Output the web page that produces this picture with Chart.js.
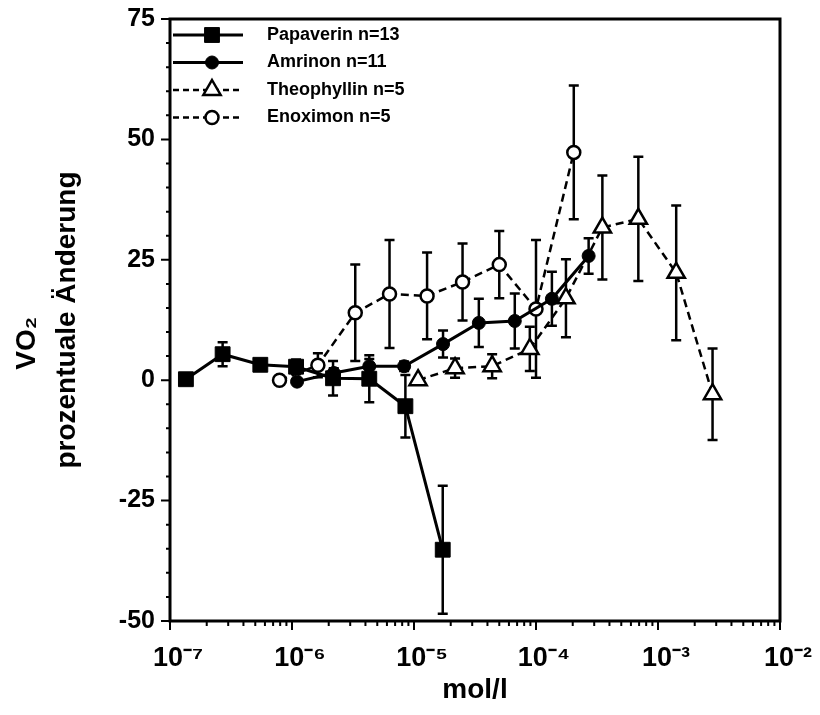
<!DOCTYPE html>
<html>
<head>
<meta charset="utf-8">
<script src="https://cdn.jsdelivr.net/npm/chart.js@4.4.1/dist/chart.umd.min.js"></script>
<style>
  html, body { margin: 0; padding: 0; background: #fff; }
</style>
</head>
<body>
<canvas id="vo2Chart" width="820" height="715"></canvas>
<script>
const seriesNames = ["Papaverin n=13", "Amrinon n=11", "Theophyllin n=5", "Enoximon n=5"];

// concentration (mol/l), change in %, error (+/-)
const papaverinConc = [1.35e-7, 2.7e-7, 5.5e-7, 1.08e-6, 2.17e-6, 4.3e-6, 8.5e-6, 1.72e-5];
const papaverinVals = [0.2, 5.4, 3.2, 2.8, 0.4, 0.3, -5.4, -35.2];
const papaverinErr  = [0, 2.5, 0, 1.5, 3.6, 4.9, 6.5, 13.3];

const amrinonConc = [1.1e-6, 2.2e-6, 4.3e-6, 8.3e-6, 1.73e-5, 3.4e-5, 6.7e-5, 1.35e-4, 2.7e-4];
const amrinonVals = [-0.3, 1.5, 2.9, 2.9, 7.5, 11.9, 12.3, 16.9, 25.8];
const amrinonErr  = [0, 1, 1.5, 1, 2.8, 5, 5.7, 5.6, 3.7];

const theoConc = [1.08e-5, 2.17e-5, 4.37e-5, 8.9e-5, 1.76e-4, 3.5e-4, 6.9e-4, 1.41e-3, 2.8e-3];
const theoVals = [0, 2.5, 2.9, 6.5, 17, 31.7, 33.5, 22.3, -2.9];
const theoErr  = [0, 2, 2.5, 4.6, 8.1, 10.8, 12.9, 14, 9.5];

const enoxConc = [7.9e-7, 1.63e-6, 3.3e-6, 6.3e-6, 1.28e-5, 2.5e-5, 5.0e-5, 1.0e-4, 2.04e-4];
const enoxVals = [0, 3.1, 14, 17.9, 17.5, 20.4, 24, 14.8, 47.3];
const enoxErr  = [0, 2.5, 10, 11.2, 9, 8, 7, 14.3, 13.9];

const xDecades = [-7, -6, -5, -4, -3, -2];
const xTickLabels = ["10\u207B\u2077", "10\u207B\u2076", "10\u207B\u2075", "10\u207B\u2074", "10\u207B\u00B3", "10\u207B\u00B2"];
const yTicks = [-50, -25, 0, 25, 50, 75];

const FONT = "'Liberation Sans', Arial, Helvetica, sans-serif";

function pts(xs, ys) {
  return xs.map((x, i) => ({ x: x, y: ys[i] }));
}

function drawMarker(ctx, style, x, y, r, fill, bw) {
  ctx.beginPath();
  if (style === 'rect') {
    const s = r * Math.SQRT1_2;
    ctx.rect(x - s, y - s, 2 * s, 2 * s);
  } else if (style === 'triangle') {
    ctx.moveTo(x, y - r);
    ctx.lineTo(x + 0.866 * r, y + 0.5 * r);
    ctx.lineTo(x - 0.866 * r, y + 0.5 * r);
  } else {
    ctx.arc(x, y, r, 0, Math.PI * 2);
  }
  ctx.closePath();
  ctx.fillStyle = fill;
  ctx.fill();
  ctx.setLineDash([]);
  ctx.lineWidth = bw;
  ctx.strokeStyle = '#000';
  ctx.stroke();
}

// error bars under the markers
const errorBars = {
  id: 'errorBars',
  beforeDatasetsDraw(chart) {
    const ctx = chart.ctx, xs = chart.scales.x, ys = chart.scales.y;
    ctx.save();
    ctx.strokeStyle = '#000';
    ctx.lineWidth = 2.5;
    chart.data.datasets.forEach(ds => {
      ds.data.forEach((p, i) => {
        const e = ds.errors[i];
        if (!e) return;
        const px = xs.getPixelForValue(p.x);
        const top = ys.getPixelForValue(p.y + e);
        const bot = ys.getPixelForValue(p.y - e);
        ctx.beginPath();
        ctx.moveTo(px, top); ctx.lineTo(px, bot);
        ctx.moveTo(px - 5, top); ctx.lineTo(px + 5, top);
        ctx.moveTo(px - 5, bot); ctx.lineTo(px + 5, bot);
        ctx.stroke();
      });
    });
    ctx.restore();
  }
};

// frame, tick marks and the legend box
const frameAndLegend = {
  id: 'frameAndLegend',
  afterDraw(chart) {
    const ctx = chart.ctx, a = chart.chartArea;
    const xs = chart.scales.x, ys = chart.scales.y;
    ctx.save();
    ctx.strokeStyle = '#000';
    ctx.lineWidth = 3;
    ctx.strokeRect(a.left, a.top, a.right - a.left, a.bottom - a.top);

    ctx.lineWidth = 2;
    ctx.beginPath();
    for (let v = -50; v <= 75; v += 5) {
      const py = ys.getPixelForValue(v);
      const len = (v % 25 === 0) ? 9 : 4;
      ctx.moveTo(a.left - len, py); ctx.lineTo(a.left, py);
    }
    for (let d = -7; d <= -3; d++) {
      for (let m = 1; m <= 9; m++) {
        const px = xs.getPixelForValue(m * Math.pow(10, d));
        const len = m === 1 ? 9 : 5;
        ctx.moveTo(px, a.bottom); ctx.lineTo(px, a.bottom + len);
      }
    }
    const pxEnd = xs.getPixelForValue(1e-2);
    ctx.moveTo(pxEnd, a.bottom); ctx.lineTo(pxEnd, a.bottom + 9);
    ctx.stroke();

    // legend
    ctx.font = "bold 18px " + FONT;
    ctx.textBaseline = 'middle';
    ctx.textAlign = 'left';
    chart.data.datasets.forEach((ds, i) => {
      const y = 35 + i * 27.5;
      ctx.beginPath();
      ctx.lineWidth = ds.borderWidth;
      ctx.setLineDash(ds.borderDash.length ? [6, 4] : []);
      ctx.moveTo(173, y); ctx.lineTo(243, y);
      ctx.stroke();
      drawMarker(ctx, ds.pointStyle, 212, y, ds.pointRadius, ds.pointBackgroundColor, ds.pointBorderWidth);
      ctx.fillStyle = '#000';
      ctx.fillText(ds.label, 267, y);
    });
    ctx.restore();
  }
};

function series(label, xs, ys, errs, style, radius, fill, dashed) {
  return {
    label: label,
    data: pts(xs, ys),
    errors: errs,
    showLine: true,
    tension: 0,
    borderColor: '#000',
    borderWidth: dashed ? 2.5 : 3,
    borderDash: dashed ? [8, 5] : [],
    pointStyle: style,
    pointRadius: radius,
    pointHoverRadius: radius,
    pointBackgroundColor: fill,
    pointBorderColor: '#000',
    pointBorderWidth: style === 'rect' ? 1 : (fill === '#fff' ? 2.5 : 1)
  };
}

const ctx = document.getElementById('vo2Chart');
const vo2Chart = new Chart(ctx, {
  type: 'scatter',
  data: {
    datasets: [
      series(seriesNames[0], papaverinConc, papaverinVals, papaverinErr, 'rect', 10.5, '#000', false),
      series(seriesNames[1], amrinonConc, amrinonVals, amrinonErr, 'circle', 6.5, '#000', false),
      series(seriesNames[2], theoConc, theoVals, theoErr, 'triangle', 10, '#fff', true),
      series(seriesNames[3], enoxConc, enoxVals, enoxErr, 'circle', 6.5, '#fff', true)
    ]
  },
  options: {
    responsive: false,
    animation: false,
    devicePixelRatio: 1,
    layout: { padding: { top: 19, right: 40, left: 0, bottom: 0 } },
    plugins: {
      legend: { display: false },
      tooltip: { enabled: false }
    },
    scales: {
      x: {
        type: 'logarithmic',
        position: 'bottom',
        min: 1e-7,
        max: 1e-2,
        grid: { display: false, drawTicks: false },
        border: { display: false },
        afterBuildTicks: s => { s.ticks = xDecades.map(e => ({ value: Math.pow(10, e) })); },
        afterFit: s => { s.height = 94; s.paddingLeft = 0; s.paddingRight = 0; },
        ticks: {
          autoSkip: false,
          maxRotation: 0,
          padding: 21,
          labelOffset: 8,
          color: '#000',
          font: { family: FONT, size: 27, weight: 'bold' },
          callback: (v, i) => xTickLabels[i]
        },
        title: {
          display: true,
          text: 'mol/l',
          color: '#000',
          font: { family: FONT, size: 28, weight: 'bold' },
          padding: { top: 0, bottom: 8 }
        }
      },
      y: {
        type: 'linear',
        min: -50,
        max: 75,
        grid: { display: false, drawTicks: false },
        border: { display: false },
        afterBuildTicks: s => { s.ticks = yTicks.map(v => ({ value: v })); },
        afterFit: s => { s.width = 170; s.paddingTop = 0; s.paddingBottom = 0; },
        ticks: {
          padding: 15,
          color: '#000',
          font: { family: FONT, size: 25, weight: 'bold' }
        },
        title: {
          display: true,
          text: ['VO\u2082\u00A0\u00A0\u00A0\u00A0\u00A0\u00A0', 'prozentuale \u00C4nderung'],
          color: '#000',
          font: { family: FONT, size: 28, weight: 'bold', lineHeight: 1.4 },
          padding: { top: 8, bottom: 0 }
        }
      }
    }
  },
  plugins: [errorBars, frameAndLegend]
});
</script>
</body>
</html>
